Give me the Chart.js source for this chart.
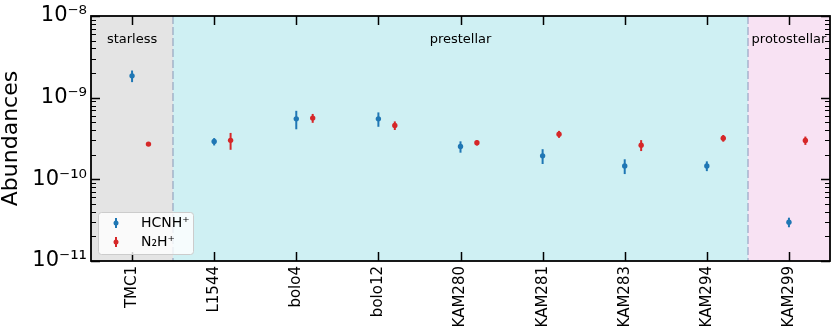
<!DOCTYPE html>
<html><head><meta charset="utf-8">
<script src="https://cdn.jsdelivr.net/npm/chart.js@4/dist/chart.umd.min.js"></script>
<style>html,body{margin:0;padding:0;background:#fff;}canvas{display:block;}</style>
</head><body>
<canvas id="c" width="831" height="335"></canvas>
<script>
const categories = ['TMC1','L1544','bolo4','bolo12','KAM280','KAM281','KAM283','KAM294','KAM299'];
const hcnhValues = [1.85e-9, 2.9e-10, 5.5e-10, 5.5e-10, 2.52e-10, 1.94e-10, 1.46e-10, 1.46e-10, 2.99e-11];
const hcnhErrors = [0.3e-9, 0.3e-10, 1.4e-10, 1.1e-10, 0.4e-10, 0.4e-10, 0.3e-10, 0.2e-10, 0.4e-11];
const n2hValues  = [2.7e-10, 3.0e-10, 5.62e-10, 4.57e-10, 2.8e-10, 3.57e-10, 2.62e-10, 3.19e-10, 2.99e-10];
const n2hErrors  = [0.1e-10, 0.7e-10, 0.7e-10, 0.55e-10, 0.2e-10, 0.35e-10, 0.4e-10, 0.3e-10, 0.35e-10];
const regionNames = ['starless','prestellar','protostellar'];
const regionFirst = [0, 1, 8];
const regionLast  = [0, 7, 8];
const regionLabelAt = [0, 4, 8];
const yTickValues = [1e-11, 1e-10, 1e-9, 1e-8];
const yTickLabels = ['10\u207B\u00B9\u00B9', '10\u207B\u00B9\u2070', '10\u207B\u2079', '10\u207B\u2078'];
const seriesNames = ['HCNH\u207A', 'N\u2082H\u207A'];

const regionColors = ['#e4e4e4', '#cff0f3', '#f8e2f3'];
const seriesColors = ['#1f77b4', '#d62728'];
const N2H_SHIFT = 0.2;
const FONT = "'DejaVu Sans', sans-serif";

const plugin = {
  id: 'decor',
  beforeDatasetsDraw(chart) {
    const {ctx, chartArea: a, scales: {x, y}} = chart;
    ctx.save();
    regionNames.forEach((n, i) => {
      const x0 = x.getPixelForValue(regionFirst[i] - 0.5);
      const x1 = x.getPixelForValue(regionLast[i] + 0.5);
      ctx.fillStyle = regionColors[i];
      ctx.fillRect(x0, a.top, x1 - x0, a.bottom - a.top);
    });
    ctx.setLineDash([8, 3]);
    ctx.lineWidth = 2;
    ctx.strokeStyle = 'rgba(110,130,170,0.4)';
    for (let i = 1; i < regionNames.length; i++) {
      const xp = Math.round(x.getPixelForValue(regionFirst[i] - 0.5));
      ctx.beginPath(); ctx.moveTo(xp, a.top); ctx.lineTo(xp, a.bottom); ctx.stroke();
    }
    ctx.setLineDash([]);
    ctx.fillStyle = '#000';
    ctx.font = '13px ' + FONT;
    ctx.textAlign = 'center'; ctx.textBaseline = 'middle';
    regionNames.forEach((n, i) => {
      ctx.fillText(n, x.getPixelForValue(regionLabelAt[i]), a.top + 24);
    });
    chart.data.datasets.forEach((ds, di) => {
      const meta = chart.getDatasetMeta(di);
      ctx.strokeStyle = ds.backgroundColor;
      ctx.lineWidth = 2;
      ds.data.forEach((p, j) => {
        const e = ds.errors[j];
        const el = meta.data[j];
        const yt = y.getPixelForValue(p.y + e), yb = y.getPixelForValue(p.y - e);
        ctx.beginPath(); ctx.moveTo(el.x, yt); ctx.lineTo(el.x, yb); ctx.stroke();
      });
    });
    ctx.restore();
  },
  afterDraw(chart) {
    const {ctx, chartArea: a, scales: {x, y}} = chart;
    ctx.save();
    ctx.strokeStyle = '#000';
    ctx.lineWidth = 1.5;
    categories.forEach((c, i) => {
      const xp = Math.round(x.getPixelForValue(i)) + 0.5;
      ctx.beginPath();
      ctx.moveTo(xp, a.bottom); ctx.lineTo(xp, a.bottom - 9);
      ctx.moveTo(xp, a.top); ctx.lineTo(xp, a.top + 9);
      ctx.stroke();
    });
    yTickValues.forEach(v => {
      const yp = Math.round(y.getPixelForValue(v)) + 0.5;
      ctx.beginPath();
      ctx.moveTo(a.left, yp); ctx.lineTo(a.left + 9, yp);
      ctx.moveTo(a.right, yp); ctx.lineTo(a.right - 9, yp);
      ctx.stroke();
    });
    ctx.lineWidth = 1;
    for (let d = 0; d < yTickValues.length - 1; d++) {
      for (let k = 2; k <= 9; k++) {
        const yp = Math.round(y.getPixelForValue(k * yTickValues[d])) + 0.5;
        ctx.beginPath();
        ctx.moveTo(a.left, yp); ctx.lineTo(a.left + 5, yp);
        ctx.moveTo(a.right, yp); ctx.lineTo(a.right - 5, yp);
        ctx.stroke();
      }
    }
    ctx.lineWidth = 1.8;
    ctx.strokeRect(a.left, a.top, a.right - a.left, a.bottom - a.top);
    const lx = a.left + 7, ly = a.bottom - 49, lw = 95, lh = 42;
    ctx.fillStyle = 'rgba(255,255,255,0.8)';
    ctx.strokeStyle = '#cccccc';
    ctx.lineWidth = 1;
    ctx.beginPath();
    ctx.roundRect(lx + 0.5, ly + 0.5, lw, lh, 3);
    ctx.fill(); ctx.stroke();
    ctx.font = '14px ' + FONT;
    ctx.textAlign = 'left'; ctx.textBaseline = 'middle';
    seriesNames.forEach((n, i) => {
      const ry = ly + 11 + i * 19;
      const mx = lx + 18;
      ctx.strokeStyle = seriesColors[i]; ctx.lineWidth = 2;
      ctx.beginPath(); ctx.moveTo(mx, ry - 5); ctx.lineTo(mx, ry + 5); ctx.stroke();
      ctx.fillStyle = seriesColors[i];
      ctx.beginPath(); ctx.arc(mx, ry, 2.5, 0, Math.PI * 2); ctx.fill();
      ctx.fillStyle = '#000';
      ctx.fillText(n, lx + 43, ry);
    });
    ctx.restore();
  }
};

new Chart(document.getElementById('c'), {
  type: 'scatter',
  data: {
    datasets: [
      { label: seriesNames[0], data: hcnhValues.map((v, i) => ({x: i, y: v})), errors: hcnhErrors,
        backgroundColor: seriesColors[0], borderWidth: 0, pointRadius: 2.7, pointHoverRadius: 2.7 },
      { label: seriesNames[1], data: n2hValues.map((v, i) => ({x: i + N2H_SHIFT, y: v})), errors: n2hErrors,
        backgroundColor: seriesColors[1], borderWidth: 0, pointRadius: 2.7, pointHoverRadius: 2.7 }
    ]
  },
  options: {
    responsive: false, animation: false, devicePixelRatio: 1,
    layout: { autoPadding: false, padding: { top: 16, right: 1, left: 0, bottom: 0 } },
    plugins: { legend: { display: false }, tooltip: { enabled: false } },
    scales: {
      x: {
        type: 'linear', min: -0.5, max: 8.5,
        afterBuildTicks: s => { s.ticks = categories.map((c, i) => ({value: i})); },
        afterFit: s => { s.height = 74; s.paddingLeft = 0; s.paddingRight = 0; },
        grid: { display: false, drawTicks: false },
        border: { display: false },
        ticks: { autoSkip: false, maxRotation: 90, minRotation: 90, padding: 5, color: '#000',
          font: { family: FONT, size: 15 }, callback: (v, i) => categories[i] }
      },
      y: {
        type: 'logarithmic', min: 1e-11, max: 1e-8,
        afterBuildTicks: s => { s.ticks = yTickValues.map(v => ({value: v})); },
        afterFit: s => { s.width = 91; s.paddingTop = 0; s.paddingBottom = 0; },
        grid: { display: false, drawTicks: false },
        border: { display: false },
        ticks: { padding: 4, color: '#000', font: { family: FONT, size: 21 },
          callback: (v, i) => yTickLabels[i] },
        title: { display: true, text: 'Abundances', color: '#000', padding: 0,
          font: { family: FONT, size: 22, lineHeight: 1.0 } }
      }
    }
  },
  plugins: [plugin]
});
</script>
</body></html>
